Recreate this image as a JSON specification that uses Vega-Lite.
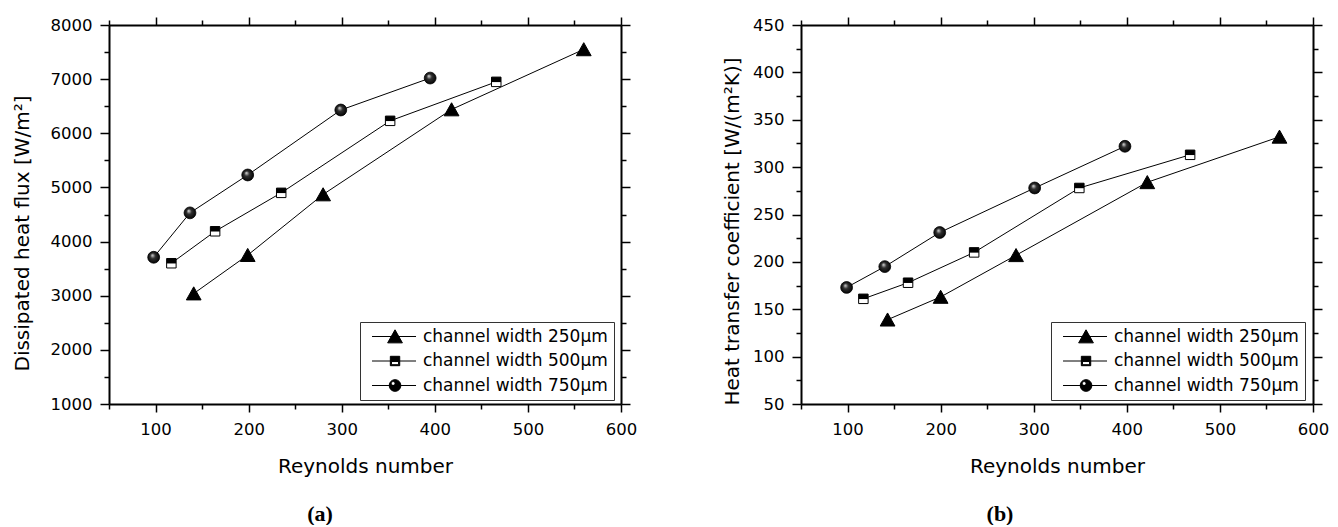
{
  "$schema": "https://vega.github.io/schema/vega-lite/v6.json",
  "background": "white",
  "padding": {"left": 12, "top": 16, "right": 0, "bottom": 0},
  "spacing": 84,
  "datasets": {
    "a": [
      {"series": "channel width 250μm", "Re": 141, "v": 3040},
      {"series": "channel width 250μm", "Re": 199, "v": 3750},
      {"series": "channel width 250μm", "Re": 280, "v": 4870},
      {"series": "channel width 250μm", "Re": 418, "v": 6440},
      {"series": "channel width 250μm", "Re": 560, "v": 7550},
      {"series": "channel width 500μm", "Re": 117, "v": 3600},
      {"series": "channel width 500μm", "Re": 164, "v": 4190},
      {"series": "channel width 500μm", "Re": 235, "v": 4900},
      {"series": "channel width 500μm", "Re": 352, "v": 6230},
      {"series": "channel width 500μm", "Re": 466, "v": 6950},
      {"series": "channel width 750μm", "Re": 98, "v": 3710},
      {"series": "channel width 750μm", "Re": 137, "v": 4530},
      {"series": "channel width 750μm", "Re": 199, "v": 5230},
      {"series": "channel width 750μm", "Re": 299, "v": 6430},
      {"series": "channel width 750μm", "Re": 395, "v": 7020}
    ],
    "b": [
      {"series": "channel width 250μm", "Re": 143, "v": 139},
      {"series": "channel width 250μm", "Re": 200, "v": 163},
      {"series": "channel width 250μm", "Re": 281, "v": 207},
      {"series": "channel width 250μm", "Re": 422, "v": 284},
      {"series": "channel width 250μm", "Re": 564, "v": 332},
      {"series": "channel width 500μm", "Re": 117, "v": 161},
      {"series": "channel width 500μm", "Re": 165, "v": 178},
      {"series": "channel width 500μm", "Re": 236, "v": 210},
      {"series": "channel width 500μm", "Re": 349, "v": 278},
      {"series": "channel width 500μm", "Re": 468, "v": 313},
      {"series": "channel width 750μm", "Re": 99, "v": 173},
      {"series": "channel width 750μm", "Re": 140, "v": 195},
      {"series": "channel width 750μm", "Re": 199, "v": 231},
      {"series": "channel width 750μm", "Re": 301, "v": 278},
      {"series": "channel width 750μm", "Re": 398, "v": 322}
    ]
  },
  "resolve": {
    "scale": {"x": "independent", "y": "independent", "shape": "independent"},
    "legend": {"shape": "independent"}
  },
  "hconcat": [
    {
      "width": 512,
      "height": 379,
      "data": {"name": "a"},
      "title": {"text": "(a)", "orient": "bottom", "anchor": "middle", "dx": -45, "offset": 28, "font": "Liberation Serif", "fontSize": 22, "fontWeight": "bold", "color": "black"},
      "resolve": {"axis": {"x": "independent", "y": "independent"}},
      "layer": [
        {
          "mark": {"type": "line", "color": "black", "strokeWidth": 1},
          "encoding": {
            "x": {"field": "Re", "type": "quantitative", "scale": {"domain": [50, 600], "nice": false, "zero": false},
              "axis": {"orient": "bottom", "values": [50,100,150,200,250,300,350,400,450,500,550,600],
                "labelExpr": "datum.value % 100 === 0 ? datum.label : ''",
                "tickSize": {"condition": {"test": "datum.value % 100 === 0", "value": 8}, "value": 5},
                "labelPadding": 9, "title": "Reynolds number", "titleY": 62, "titleBaseline": "middle"}},
            "y": {"field": "v", "type": "quantitative", "scale": {"domain": [1000, 8000], "nice": false, "zero": false},
              "axis": {"orient": "left", "values": [1000,1500,2000,2500,3000,3500,4000,4500,5000,5500,6000,6500,7000,7500,8000],
                "labelExpr": "datum.value % 1000 === 0 ? format(datum.value, 'd') : ''",
                "tickSize": {"condition": {"test": "datum.value % 1000 === 0", "value": 9}, "value": 5},
                "labelPadding": 8, "title": "Dissipated heat flux [W/m²]", "titleX": -87, "titleY": 208, "titleAngle": 270, "titleAlign": "center", "titleBaseline": "middle"}},
            "detail": {"field": "series", "type": "nominal"}
          }
        },
        {
          "mark": {"type": "point", "opacity": 0},
          "encoding": {
            "x": {"field": "Re", "type": "quantitative",
              "axis": {"orient": "top", "values": [50,100,150,200,250,300,350,400,450,500,550,600], "labels": false, "title": null,
                "tickSize": {"condition": {"test": "datum.value % 100 === 0", "value": 8}, "value": 5}}},
            "y": {"field": "v", "type": "quantitative",
              "axis": {"orient": "right", "values": [1000,1500,2000,2500,3000,3500,4000,4500,5000,5500,6000,6500,7000,7500,8000], "labels": false, "title": null,
                "tickSize": {"condition": {"test": "datum.value % 1000 === 0", "value": 9}, "value": 5}}}
          }
        },
        {
          "transform": [{"filter": "datum.series === 'channel width 250μm'"}],
          "mark": {"type": "point", "shape": "M0,-1L1.1,0.95H-1.1Z", "size": 180, "filled": true, "fill": "black", "stroke": "black", "strokeWidth": 1, "opacity": 1},
          "encoding": {"x": {"field": "Re", "type": "quantitative", "axis": null}, "y": {"field": "v", "type": "quantitative", "axis": null}}
        },
        {
          "transform": [{"filter": "datum.series === 'channel width 500μm'"}],
          "mark": {"type": "point", "shape": "square", "size": 90, "filled": true, "fill": "white", "stroke": "black", "strokeWidth": 1, "opacity": 1},
          "encoding": {"x": {"field": "Re", "type": "quantitative", "axis": null}, "y": {"field": "v", "type": "quantitative", "axis": null}}
        },
        {
          "transform": [{"filter": "datum.series === 'channel width 500μm'"}],
          "mark": {"type": "point", "shape": "M-1,-1H1V0.05H-1Z", "size": 90, "filled": true, "fill": "black", "opacity": 1},
          "encoding": {"x": {"field": "Re", "type": "quantitative", "axis": null}, "y": {"field": "v", "type": "quantitative", "axis": null}}
        },
        {
          "transform": [{"filter": "datum.series === 'channel width 750μm'"}],
          "mark": {"type": "point", "shape": "circle", "size": 140, "filled": true, "stroke": "black", "strokeWidth": 0.8, "opacity": 1,
            "fill": {"gradient": "radial", "x1": 0.38, "y1": 0.32, "r1": 0, "x2": 0.5, "y2": 0.5, "r2": 0.55,
              "stops": [{"offset": 0, "color": "#e0e0e0"}, {"offset": 0.4, "color": "#303030"}, {"offset": 1, "color": "#000000"}]}},
          "encoding": {"x": {"field": "Re", "type": "quantitative", "axis": null}, "y": {"field": "v", "type": "quantitative", "axis": null}}
        },
        {
          "transform": [{"filter": "false"}],
          "mark": {"type": "point", "filled": false, "fill": "black", "stroke": "black", "strokeWidth": 1, "opacity": 1},
          "encoding": {
            "x": {"field": "Re", "type": "quantitative", "axis": null},
            "y": {"field": "v", "type": "quantitative", "axis": null},
            "shape": {"field": "series", "type": "nominal",
              "scale": {"domain": ["channel width 250μm", "channel width 500μm", "channel width 750μm"],
                "range": [
                  "M-0.37,0H6.19M3.06,-1L4.16,0.95H1.96Z",
                  "M-0.37,0H6.19M2.36,-0.7H3.76V0.7H2.36Z M2.53,0.08V0.55H3.59V0.08Z",
                  "M-0.37,0H6.19M2.19,0A0.87,0.87,0,1,1,3.93,0A0.87,0.87,0,1,1,2.19,0Z M2.5,-0.3A0.28,0.28,0,1,0,3.06,-0.3A0.28,0.28,0,1,0,2.5,-0.3Z"
                ]},
              "legend": {"title": null, "orient": "none", "legendX": 251, "legendY": 297, "direction": "vertical", "padding": 6,
                "strokeColor": "#333", "fillColor": "white", "symbolSize": 180, "symbolStrokeWidth": 1,
                "symbolOpacity": 1, "labelFontSize": 17, "labelColor": "black", "labelOffset": 40,
                "rowPadding": 6.5, "labelLimit": 400}}
          }
        }
      ]
    },
    {
      "width": 512,
      "height": 379,
      "data": {"name": "b"},
      "title": {"text": "(b)", "orient": "bottom", "anchor": "middle", "dx": -57, "offset": 28, "font": "Liberation Serif", "fontSize": 22, "fontWeight": "bold", "color": "black"},
      "resolve": {"axis": {"x": "independent", "y": "independent"}},
      "layer": [
        {
          "mark": {"type": "line", "color": "black", "strokeWidth": 1},
          "encoding": {
            "x": {"field": "Re", "type": "quantitative", "scale": {"domain": [50, 600], "nice": false, "zero": false},
              "axis": {"orient": "bottom", "values": [50,100,150,200,250,300,350,400,450,500,550,600],
                "labelExpr": "datum.value % 100 === 0 ? datum.label : ''",
                "tickSize": {"condition": {"test": "datum.value % 100 === 0", "value": 8}, "value": 5},
                "labelPadding": 9, "title": "Reynolds number", "titleY": 62, "titleBaseline": "middle"}},
            "y": {"field": "v", "type": "quantitative", "scale": {"domain": [50, 450], "nice": false, "zero": false},
              "axis": {"orient": "left", "values": [50,75,100,125,150,175,200,225,250,275,300,325,350,375,400,425,450],
                "labelExpr": "datum.value % 50 === 0 ? format(datum.value, 'd') : ''",
                "tickSize": {"condition": {"test": "datum.value % 50 === 0", "value": 9}, "value": 5},
                "labelPadding": 8, "title": "Heat transfer coefficient [W/(m²K)]", "titleX": -69, "titleY": 206, "titleAngle": 270, "titleAlign": "center", "titleBaseline": "middle"}},
            "detail": {"field": "series", "type": "nominal"}
          }
        },
        {
          "mark": {"type": "point", "opacity": 0},
          "encoding": {
            "x": {"field": "Re", "type": "quantitative",
              "axis": {"orient": "top", "values": [50,100,150,200,250,300,350,400,450,500,550,600], "labels": false, "title": null,
                "tickSize": {"condition": {"test": "datum.value % 100 === 0", "value": 8}, "value": 5}}},
            "y": {"field": "v", "type": "quantitative",
              "axis": {"orient": "right", "values": [50,75,100,125,150,175,200,225,250,275,300,325,350,375,400,425,450], "labels": false, "title": null,
                "tickSize": {"condition": {"test": "datum.value % 50 === 0", "value": 9}, "value": 5}}}
          }
        },
        {
          "transform": [{"filter": "datum.series === 'channel width 250μm'"}],
          "mark": {"type": "point", "shape": "M0,-1L1.1,0.95H-1.1Z", "size": 180, "filled": true, "fill": "black", "stroke": "black", "strokeWidth": 1, "opacity": 1},
          "encoding": {"x": {"field": "Re", "type": "quantitative", "axis": null}, "y": {"field": "v", "type": "quantitative", "axis": null}}
        },
        {
          "transform": [{"filter": "datum.series === 'channel width 500μm'"}],
          "mark": {"type": "point", "shape": "square", "size": 90, "filled": true, "fill": "white", "stroke": "black", "strokeWidth": 1, "opacity": 1},
          "encoding": {"x": {"field": "Re", "type": "quantitative", "axis": null}, "y": {"field": "v", "type": "quantitative", "axis": null}}
        },
        {
          "transform": [{"filter": "datum.series === 'channel width 500μm'"}],
          "mark": {"type": "point", "shape": "M-1,-1H1V0.05H-1Z", "size": 90, "filled": true, "fill": "black", "opacity": 1},
          "encoding": {"x": {"field": "Re", "type": "quantitative", "axis": null}, "y": {"field": "v", "type": "quantitative", "axis": null}}
        },
        {
          "transform": [{"filter": "datum.series === 'channel width 750μm'"}],
          "mark": {"type": "point", "shape": "circle", "size": 140, "filled": true, "stroke": "black", "strokeWidth": 0.8, "opacity": 1,
            "fill": {"gradient": "radial", "x1": 0.38, "y1": 0.32, "r1": 0, "x2": 0.5, "y2": 0.5, "r2": 0.55,
              "stops": [{"offset": 0, "color": "#e0e0e0"}, {"offset": 0.4, "color": "#303030"}, {"offset": 1, "color": "#000000"}]}},
          "encoding": {"x": {"field": "Re", "type": "quantitative", "axis": null}, "y": {"field": "v", "type": "quantitative", "axis": null}}
        },
        {
          "transform": [{"filter": "false"}],
          "mark": {"type": "point", "filled": false, "fill": "black", "stroke": "black", "strokeWidth": 1, "opacity": 1},
          "encoding": {
            "x": {"field": "Re", "type": "quantitative", "axis": null},
            "y": {"field": "v", "type": "quantitative", "axis": null},
            "shape": {"field": "series", "type": "nominal",
              "scale": {"domain": ["channel width 250μm", "channel width 500μm", "channel width 750μm"],
                "range": [
                  "M-0.37,0H6.19M3.06,-1L4.16,0.95H1.96Z",
                  "M-0.37,0H6.19M2.36,-0.7H3.76V0.7H2.36Z M2.53,0.08V0.55H3.59V0.08Z",
                  "M-0.37,0H6.19M2.19,0A0.87,0.87,0,1,1,3.93,0A0.87,0.87,0,1,1,2.19,0Z M2.5,-0.3A0.28,0.28,0,1,0,3.06,-0.3A0.28,0.28,0,1,0,2.5,-0.3Z"
                ]},
              "legend": {"title": null, "orient": "none", "legendX": 250, "legendY": 297, "direction": "vertical", "padding": 6,
                "strokeColor": "#333", "fillColor": "white", "symbolSize": 180, "symbolStrokeWidth": 1,
                "symbolOpacity": 1, "labelFontSize": 17, "labelColor": "black", "labelOffset": 40,
                "rowPadding": 6.5, "labelLimit": 400}}
          }
        }
      ]
    }
  ],
  "config": {
    "font": "DejaVu Sans",
    "view": {"stroke": null},
    "axis": {"domainColor": "black", "domainWidth": 2, "tickColor": "black", "tickWidth": 1.5, "labelColor": "black", "titleColor": "black",
      "labelFontSize": 16.5, "titleFontSize": 20, "titleFontWeight": "normal", "grid": false, "labelFlush": false, "labelOverlap": false},
    "legend": {"labelFont": "DejaVu Sans"}
  }
}
